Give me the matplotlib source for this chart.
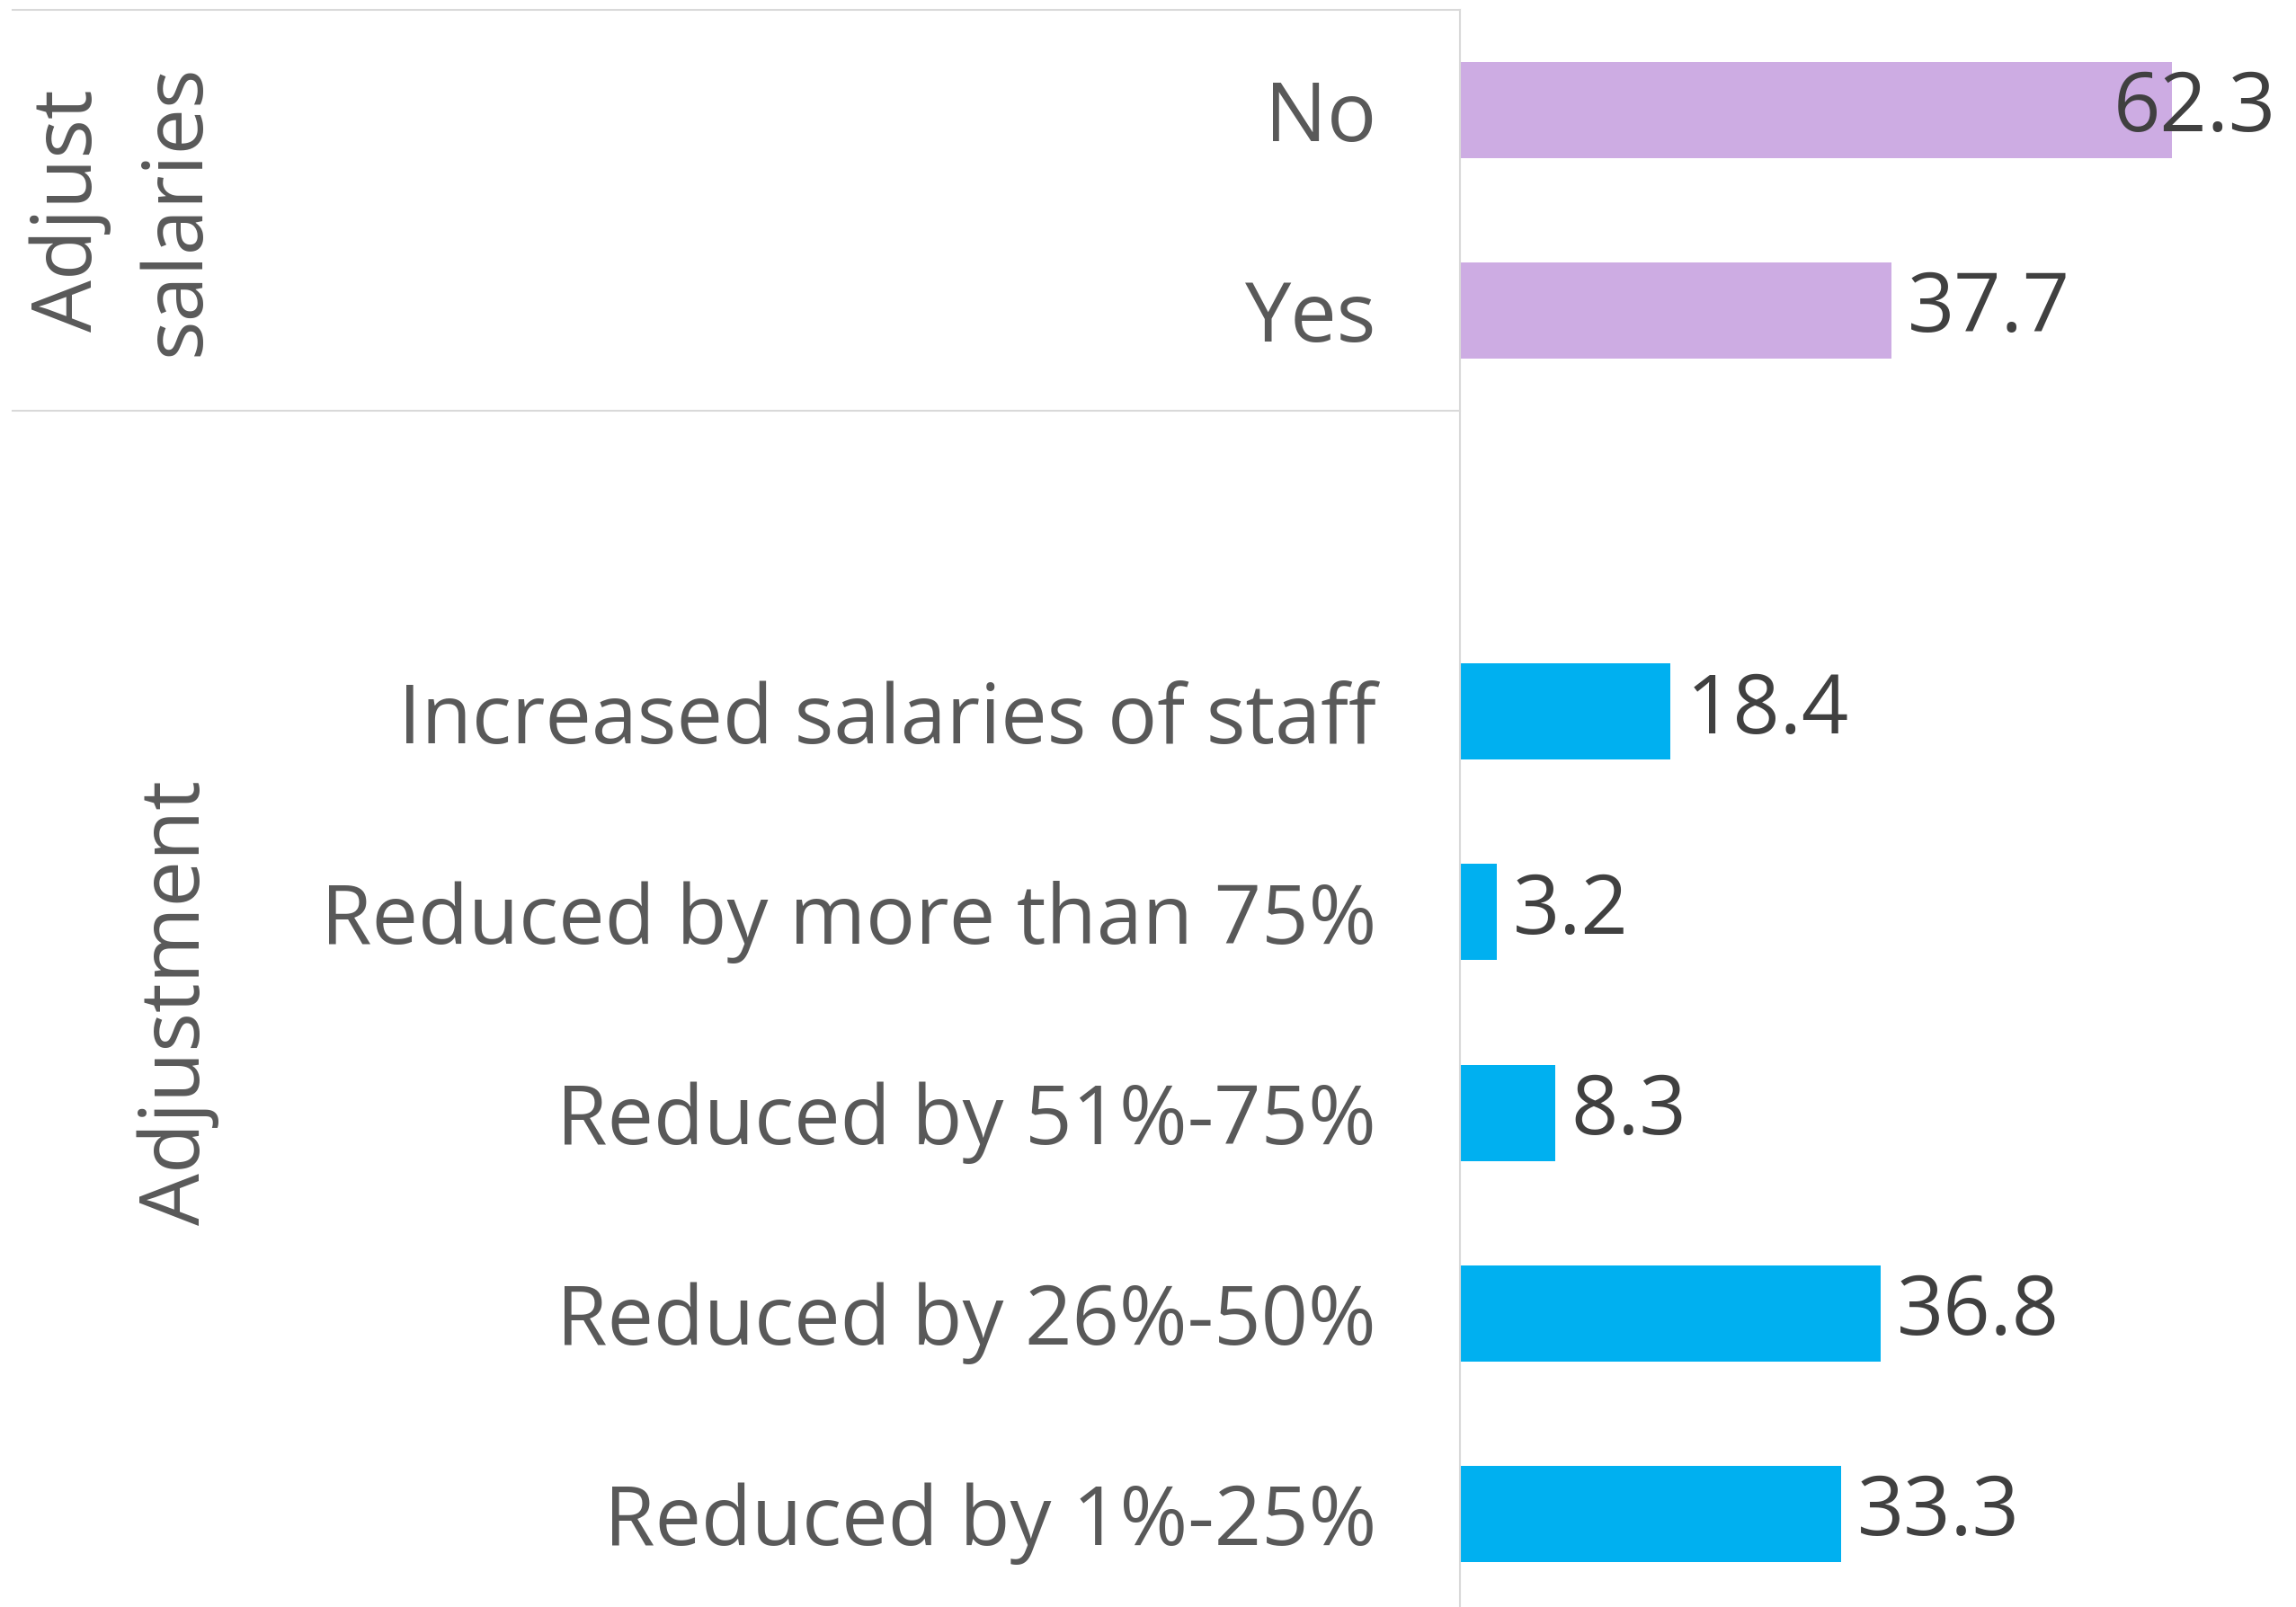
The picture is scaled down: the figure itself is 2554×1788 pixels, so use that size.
import matplotlib
matplotlib.use("Agg")
import matplotlib.pyplot as plt
from matplotlib.transforms import blended_transform_factory, offset_copy

# ---- data ----
salary_cats = ["No", "Yes"]
salary_vals = [62.3, 37.7]
adj_cats = ["Increased salaries of staff", "Reduced by more than 75%",
            "Reduced by 51%-75%", "Reduced by 26%-50%", "Reduced by 1%-25%"]
adj_vals = [18.4, 3.2, 8.3, 36.8, 33.3]
group_labels = ["Adjust\nsalaries", "Adjustment"]

PURPLE = "#CDACE3"
BLUE = "#00B0F0"
LABEL_C = "#595959"
VALUE_C = "#404040"
LINE_C = "#D9D9D9"
FONT = "Open Sans"
FS = 66

W, H, DPI = 2554, 1788, 100
fig = plt.figure(figsize=(W / DPI, H / DPI), dpi=DPI)
plt.rcParams['font.family'] = [FONT, 'DejaVu Sans']

row_px = 223.1
top_px = 11
ax_left = 1624 / W
ax = fig.add_axes([ax_left, 1 - (top_px + 8 * row_px) / H, 1 - ax_left, 8 * row_px / H])
ax.set_xlim(0, (W - 1624) / 12.72)
ax.set_ylim(7.5, -0.5)

salary_pos = [0, 1]
adj_pos = [3, 4, 5, 6, 7]

ax.barh(salary_pos, salary_vals, height=0.48, color=PURPLE)
ax.barh(adj_pos, adj_vals, height=0.48, color=BLUE)

ax.set_yticks(salary_pos + adj_pos)
ax.set_yticklabels(salary_cats + adj_cats, fontsize=FS, color=LABEL_C)
ax.tick_params(axis='y', length=0, pad=67)
ax.set_xticks([])
for s in ["top", "right", "bottom"]:
    ax.spines[s].set_visible(False)
ax.spines["left"].set_color(LINE_C)
ax.spines["left"].set_linewidth(1.5)

# value labels
fig.canvas.draw()
renderer = fig.canvas.get_renderer()
for pos, val in zip(salary_pos + adj_pos, salary_vals + adj_vals):
    t = ax.annotate(f"{val:.1f}", xy=(val, pos), xytext=(13, 0), textcoords="offset points",
                    ha="left", va="center", fontsize=FS, color=VALUE_C)
    bb = t.get_window_extent(renderer)
    if bb.x1 > W - 24:
        t.remove()
        tr = offset_copy(blended_transform_factory(ax.transAxes, ax.transData), fig=fig,
                         x=-22 * 72 / DPI, y=0, units="points")
        ax.text(1.0, pos, f"{val:.1f}", transform=tr, ha="right", va="center",
                fontsize=FS, color=VALUE_C)

# separator lines in label area
btr = blended_transform_factory(fig.transFigure, ax.transData)
for yb in [-0.5, 1.5]:
    ax.plot([14 / W, ax_left], [yb, yb], transform=btr, color=LINE_C, lw=1.5, clip_on=False)

# group labels
ax.text(138 / W, 0.5, group_labels[0], transform=btr, rotation=90, ha="center", va="center",
        fontsize=FS, color=LABEL_C, linespacing=1.4, multialignment="center")
ax.text(198 / W, 4.45, group_labels[1], transform=btr, rotation=90, ha="center", va="center",
        fontsize=FS, color=LABEL_C)

fig.savefig("out.png", dpi=DPI)
